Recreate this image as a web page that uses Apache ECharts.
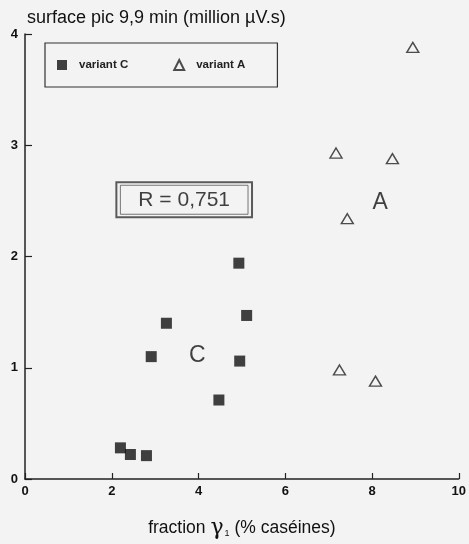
<!DOCTYPE html>
<html>
<head>
<meta charset="utf-8">
<script src="https://cdn.jsdelivr.net/npm/echarts@6/dist/echarts.min.js"></script>
<style>
html, body { margin: 0; padding: 0; background: #f3f3f3; }
#main { width: 469px; height: 544px; }
</style>
</head>
<body>
<div id="main"></div>
<script>
// variant C (carrés pleins)
var varC_x = [4.93, 3.26, 5.11, 2.91, 4.95, 4.47, 2.20, 2.43, 2.80];
var varC_y = [1.94, 1.40, 1.47, 1.10, 1.06, 0.71, 0.28, 0.22, 0.21];
// variant A (triangles vides)
var varA_x = [8.94, 7.17, 8.47, 7.43, 7.25, 8.08];
var varA_y = [3.88, 2.93, 2.88, 2.34, 0.98, 0.88];
// annotations placées en coordonnées du graphe
var annotText = ['C', 'A'];
var annotX = [3.97, 8.19];
var annotY = [1.11, 2.48];
var rText = 'R = 0,751';
var rPos = [3.67, 2.51];

var font = "'Liberation Sans', Arial, sans-serif";

function pairs(xs, ys) {
  var out = [];
  for (var i = 0; i < xs.length; i++) out.push([xs[i], ys[i]]);
  return out;
}

var annotData = [];
for (var i = 0; i < annotText.length; i++) {
  annotData.push({ value: [annotX[i], annotY[i]], label: { formatter: annotText[i] } });
}

var myChart = echarts.init(document.getElementById('main'));
myChart.setOption({
  backgroundColor: '#f3f3f3',
  animation: false,
  textStyle: { fontFamily: font },
  title: {
    text: 'surface pic 9,9 min (million µV.s)',
    left: 22,
    top: 4,
    textStyle: { fontFamily: font, fontSize: 18, fontWeight: 'normal', color: '#111' }
  },
  legend: {
    data: ['variant C', 'variant A'],
    left: 45,
    top: 43,
    padding: [16, 32, 16, 12],
    borderColor: '#333',
    borderWidth: 1.2,
    itemGap: 45,
    itemWidth: 10,
    itemHeight: 10,
    textStyle: { fontFamily: font, fontSize: 11.5, fontWeight: 'bold', color: '#222', padding: [0, 0, 0, 7] }
  },
  grid: { left: 25, right: 8, top: 34, bottom: 63 },
  xAxis: {
    type: 'value',
    min: 0,
    max: 10,
    interval: 2,
    name: '{a|fraction }{g|γ}{s|1}{a| (% caséines)}',
    nameLocation: 'middle',
    nameGap: 38,
    nameTextStyle: {
      rich: {
        a: { fontFamily: font, fontSize: 17.5, color: '#111' },
        g: { fontFamily: 'DejaVu Serif', fontSize: 22, color: '#111' },
        s: { fontFamily: font, fontSize: 9, color: '#111', padding: [11, 0, 0, 1] }
      }
    },
    axisLine: { lineStyle: { color: '#222', width: 1.5 } },
    axisTick: { inside: true, length: 6, lineStyle: { color: '#222', width: 1.2 } },
    axisLabel: { fontFamily: font, fontSize: 13, fontWeight: 'bold', color: '#111', margin: 6 },
    splitLine: { show: false }
  },
  yAxis: {
    type: 'value',
    min: 0,
    max: 4,
    interval: 1,
    axisLine: { lineStyle: { color: '#222', width: 1.5 } },
    axisTick: { inside: true, length: 7, lineStyle: { color: '#222', width: 1.2 } },
    axisLabel: { fontFamily: font, fontSize: 13, fontWeight: 'bold', color: '#111', margin: 7 },
    splitLine: { show: false }
  },
  series: [
    {
      name: 'variant C',
      type: 'scatter',
      symbol: 'rect',
      symbolSize: 11,
      itemStyle: { color: '#111' },
      data: pairs(varC_x, varC_y)
    },
    {
      name: 'variant A',
      type: 'scatter',
      symbol: 'triangle',
      symbolSize: [12, 10],
      itemStyle: { color: 'rgba(0,0,0,0)', borderColor: '#222', borderWidth: 1.4 },
      data: pairs(varA_x, varA_y)
    },
    {
      name: 'annot',
      type: 'scatter',
      symbolSize: 0,
      silent: true,
      label: {
        show: true,
        position: 'inside',
        fontFamily: font,
        fontSize: 23,
        color: '#111'
      },
      data: annotData
    },
    {
      name: 'rbox',
      type: 'scatter',
      symbolSize: 0,
      silent: true,
      z: 3,
      label: {
        show: true,
        position: 'inside',
        formatter: rText,
        fontFamily: font,
        fontSize: 21,
        color: 'rgba(0,0,0,0)',
        padding: [8, 22, 6, 22],
        borderColor: '#333',
        borderWidth: 2
      },
      data: [rPos]
    },
    {
      name: 'rtext',
      type: 'scatter',
      symbolSize: 0,
      silent: true,
      z: 4,
      label: {
        show: true,
        position: 'inside',
        formatter: rText,
        fontFamily: font,
        fontSize: 21,
        color: '#111',
        padding: [5, 18, 3, 18],
        borderColor: '#555',
        borderWidth: 1
      },
      data: [rPos]
    }
  ]
});
</script>
</body>
</html>
